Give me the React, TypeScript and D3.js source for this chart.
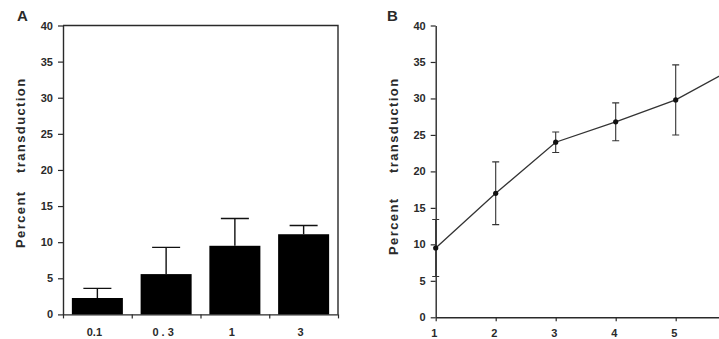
import * as d3 from "d3";
import { useEffect, useRef } from "react";

// panel A: bar chart
const barLabels = ["0.1", "0 . 3", "1", "3"];
const barValues = [2.27, 5.58, 9.5, 11.1];
const barErrors = [1.33, 3.7, 3.77, 1.2];

// panel B: line with error bars (last point runs past the right edge)
const lineX = [1, 2, 3, 4, 5, 6];
const lineValues = [9.5, 17.0, 24.0, 26.8, 29.8, 34.3];
const lineErrors = [3.9, 4.3, 1.4, 2.6, 4.8, 0];

const yTicks = [0, 5, 10, 15, 20, 25, 30, 35, 40];
const xTicksB = [1, 2, 3, 4, 5];

const FONT = "'Liberation Sans', Arial, Helvetica, sans-serif";
const W = 719;
const H = 339;

const App = () => {
  const svgRef = useRef<SVGSVGElement>(null);

  useEffect(() => {
    const svg = d3.select(svgRef.current);
    svg.selectAll("*").remove();

    const ink = "#2a2a2a";

    //общая подпись оси y
    const yLabel = (x: number, yStart: number, yStart2: number) => {
      [["Percent", yStart], ["transduction", yStart2]].forEach(([t, y]) => {
        svg.append("text")
          .attr("transform", `translate(${x},${y}) rotate(-90)`)
          .attr("text-anchor", "start")
          .style("font-family", FONT)
          .style("font-weight", "bold")
          .style("font-size", "13px")
          .style("letter-spacing", "1.4px")
          .style("fill", ink)
          .text(t as string);
      });
    };

    const styleAxis = (g: d3.Selection<SVGGElement, unknown, null, undefined>) => {
      g.select(".domain").attr("stroke", ink).attr("stroke-width", 1.4);
      g.selectAll(".tick line").attr("stroke", ink).attr("stroke-width", 1.2);
      g.selectAll(".tick text")
        .style("font-family", FONT)
        .style("font-weight", "bold")
        .style("font-size", "11px")
        .style("fill", ink);
    };

    // ---------- panel A ----------
    const ax0 = 63, ax1 = 338, aTop = 25.5, aBottom = 314.4;
    const yA = d3.scaleLinear().domain([0, 40]).range([aBottom, aTop]);
    const xA = d3.scaleBand().domain(barLabels).range([ax0, ax1])
      .paddingInner(0.258).paddingOuter(0.129);
    const xAticks = d3.scaleLinear().domain([0, barLabels.length]).range([ax0, ax1]);

    svg.append("text")
      .attr("x", 17).attr("y", 21)
      .style("font-family", FONT).style("font-weight", "bold")
      .style("font-size", "15px").style("fill", ink)
      .text("A");

    const gyA = svg.append("g")
      .attr("transform", `translate(${ax0},0)`)
      .call(d3.axisLeft(yA).tickValues(yTicks).tickSize(5).tickSizeOuter(0).tickPadding(5));
    styleAxis(gyA);

    const gxA = svg.append("g")
      .attr("transform", `translate(0,${aBottom})`)
      .call(d3.axisBottom(xAticks).tickValues(d3.range(barLabels.length + 1))
        .tickSize(4).tickSizeOuter(0).tickFormat(() => ""));
    styleAxis(gxA);

    //рамка сверху и справа
    svg.append("path")
      .attr("d", `M${ax0},${aTop}H${ax1}V${aBottom}`)
      .attr("fill", "none").attr("stroke", ink).attr("stroke-width", 1.4);

    //подписи категорий
    svg.selectAll(".xa-label")
      .data(barLabels)
      .enter().append("text")
      .attr("class", "xa-label")
      .attr("x", d => (xA(d) as number) + xA.bandwidth() / 2 - 3)
      .attr("y", 335.5)
      .attr("text-anchor", "middle")
      .style("font-family", FONT).style("font-weight", "bold")
      .style("font-size", "11px").style("fill", ink)
      .text(d => d);

    //столбцы
    svg.selectAll(".bar")
      .data(barValues)
      .enter().append("rect")
      .attr("class", "bar")
      .attr("x", (_, i) => xA(barLabels[i]) as number)
      .attr("y", d => yA(d))
      .attr("width", xA.bandwidth())
      .attr("height", d => aBottom - yA(d))
      .attr("fill", "#000");

    //погрешности (только вверх)
    const capA = 14;
    barValues.forEach((v, i) => {
      const cx = (xA(barLabels[i]) as number) + xA.bandwidth() / 2;
      const top = yA(v + barErrors[i]);
      svg.append("path")
        .attr("d", `M${cx},${yA(v)}V${top}M${cx - capA},${top}H${cx + capA}`)
        .attr("fill", "none").attr("stroke", "#111").attr("stroke-width", 1.4);
    });

    yLabel(25, 248, 173);

    // ---------- panel B ----------
    const bx0 = 435.7, bTop = 25.5, bBottom = 317.3;
    const yB = d3.scaleLinear().domain([0, 40]).range([bBottom, bTop]);
    const xB = d3.scaleLinear().domain([1, 6]).range([bx0, bx0 + 300]);

    svg.append("text")
      .attr("x", 387).attr("y", 21)
      .style("font-family", FONT).style("font-weight", "bold")
      .style("font-size", "15px").style("fill", ink)
      .text("B");

    const gyB = svg.append("g")
      .attr("transform", `translate(${bx0},0)`)
      .call(d3.axisLeft(yB).tickValues(yTicks).tickSize(5).tickSizeOuter(0).tickPadding(5));
    styleAxis(gyB);

    const gxB = svg.append("g")
      .attr("transform", `translate(0,${bBottom})`)
      .call(d3.axisBottom(xB).tickValues(xTicksB).tickSize(4).tickSizeOuter(0)
        .tickPadding(8).tickFormat(d3.format("d")));
    styleAxis(gxB);
    gxB.selectAll(".tick text").attr("dx", "-2");

    //погрешности
    const capB = 3.5;
    lineValues.forEach((v, i) => {
      if (!lineErrors[i]) return;
      const cx = xB(lineX[i]);
      const lo = yB(v - lineErrors[i]);
      const hi = yB(v + lineErrors[i]);
      svg.append("path")
        .attr("d", `M${cx},${lo}V${hi}M${cx - capB},${hi}H${cx + capB}M${cx - capB},${lo}H${cx + capB}`)
        .attr("fill", "none").attr("stroke", "#333").attr("stroke-width", 1.1);
    });

    //линия
    const line = d3.line<number>()
      .x((_, i) => xB(lineX[i]))
      .y(d => yB(d));
    svg.append("path")
      .datum(lineValues)
      .attr("d", line)
      .attr("fill", "none")
      .attr("stroke", "#333")
      .attr("stroke-width", 1.3);

    //точки
    svg.selectAll(".dot")
      .data(lineValues)
      .enter().append("circle")
      .attr("class", "dot")
      .attr("cx", (_, i) => xB(lineX[i]))
      .attr("cy", d => yB(d))
      .attr("r", 2.6)
      .attr("fill", "#111");

    yLabel(398, 255, 173);
  }, []);

  return (
    <svg
      ref={svgRef}
      width={W}
      height={H}
      style={{ position: "absolute", left: 0, top: 0, background: "#fff", overflow: "hidden" }}
    />
  );
};

export default App;
